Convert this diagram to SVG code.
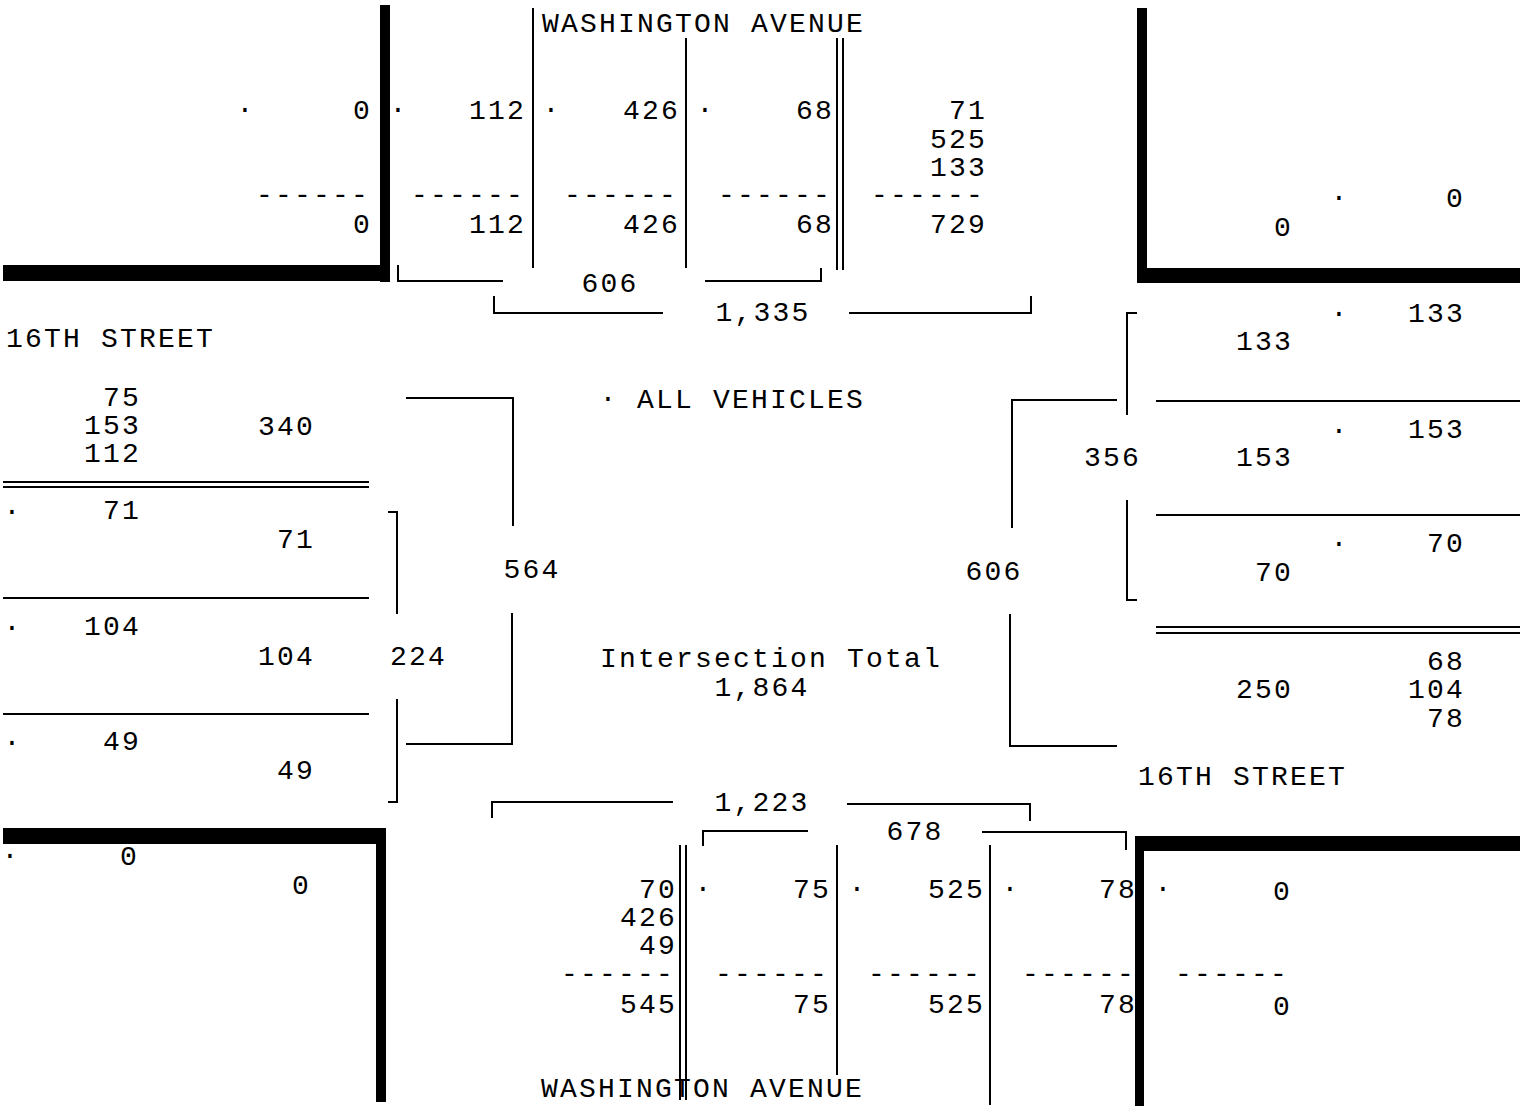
<svg xmlns="http://www.w3.org/2000/svg" width="1529" height="1115" viewBox="0 0 1529 1115">
<style>
text { font-family: "Liberation Mono", "DejaVu Sans Mono", monospace; font-size: 28px; letter-spacing: 2.2px; fill: #000; }
.r { text-anchor: end; transform: translate(2px, 0px); }
.c { text-anchor: middle; transform: translate(1px, 0px); }
.ln { stroke: #000; stroke-width: 2; fill: none; }
.thk { fill: #000; }
</style>
<rect width="1529" height="1115" fill="#fff"/>

<g id="corner-nw">
<rect class="thk" x="380" y="5" width="10" height="277"/>
<rect class="thk" x="3" y="265" width="387" height="16"/>
<text class="c" x="245" y="118">·</text>
<text class="r" x="370" y="119">0</text>
<text class="r" x="368" y="203">------</text>
<text class="r" x="370" y="233">0</text>
</g>

<g id="north-approach">
<text x="542" y="32">WASHINGTON AVENUE</text>
<line class="ln" x1="533" y1="8" x2="533" y2="268"/>
<line class="ln" x1="686" y1="38" x2="686" y2="268"/>
<line class="ln" x1="837" y1="38" x2="837" y2="270"/>
<line class="ln" x1="843" y1="38" x2="843" y2="270"/>
<text class="c" x="398" y="118">·</text>
<text class="r" x="524" y="119">112</text>
<text class="r" x="523" y="203">------</text>
<text class="r" x="524" y="233">112</text>
<text class="c" x="551" y="118">·</text>
<text class="r" x="678" y="119">426</text>
<text class="r" x="676" y="203">------</text>
<text class="r" x="678" y="233">426</text>
<text class="c" x="705" y="118">·</text>
<text class="r" x="832" y="119">68</text>
<text class="r" x="830" y="203">------</text>
<text class="r" x="832" y="233">68</text>
<text class="r" x="985" y="119">71</text>
<text class="r" x="985" y="148">525</text>
<text class="r" x="985" y="176">133</text>
<text class="r" x="983" y="203">------</text>
<text class="r" x="985" y="233">729</text>
<text class="c" x="609" y="292">606</text>
<text class="c" x="762" y="321">1,335</text>
</g>

<g id="corner-ne">
<rect class="thk" x="1137" y="8" width="10" height="275"/>
<rect class="thk" x="1137" y="268" width="383" height="15"/>
<text class="r" x="1291" y="236">0</text>
<text class="c" x="1339" y="206">·</text>
<text class="r" x="1463" y="207">0</text>
</g>

<g id="east-approach">
<text class="c" x="1339" y="322">·</text>
<text class="r" x="1463" y="322">133</text>
<text class="r" x="1291" y="350">133</text>
<line class="ln" x1="1156" y1="401" x2="1520" y2="401"/>
<text class="c" x="1339" y="439">·</text>
<text class="r" x="1463" y="438">153</text>
<text class="r" x="1139" y="466">356</text>
<text class="r" x="1291" y="466">153</text>
<line class="ln" x1="1156" y1="515" x2="1520" y2="515"/>
<text class="c" x="1339" y="552">·</text>
<text class="r" x="1463" y="552">70</text>
<text class="r" x="1291" y="581">70</text>
<line class="ln" x1="1156" y1="627" x2="1520" y2="627"/>
<line class="ln" x1="1156" y1="633" x2="1520" y2="633"/>
<text class="r" x="1463" y="670">68</text>
<text class="r" x="1463" y="698">104</text>
<text class="r" x="1463" y="727">78</text>
<text class="r" x="1291" y="698">250</text>
<text x="1138" y="785">16TH STREET</text>
<text class="c" x="993" y="580">606</text>
</g>

<g id="west-approach">
<text x="6" y="347">16TH STREET</text>
<text class="r" x="139" y="406">75</text>
<text class="r" x="139" y="434">153</text>
<text class="r" x="139" y="462">112</text>
<text class="r" x="313" y="435">340</text>
<line class="ln" x1="3" y1="482" x2="369" y2="482"/>
<line class="ln" x1="3" y1="487" x2="369" y2="487"/>
<text class="c" x="12" y="520">·</text>
<text class="r" x="139" y="519">71</text>
<text class="r" x="313" y="548">71</text>
<line class="ln" x1="3" y1="598" x2="369" y2="598"/>
<text class="c" x="12" y="636">·</text>
<text class="r" x="139" y="635">104</text>
<text class="r" x="313" y="665">104</text>
<text class="r" x="445" y="665">224</text>
<line class="ln" x1="3" y1="714" x2="369" y2="714"/>
<text class="c" x="12" y="751">·</text>
<text class="r" x="139" y="750">49</text>
<text class="r" x="313" y="779">49</text>
<text class="c" x="531" y="578">564</text>
</g>

<g id="center">
<text class="c" x="608" y="407">·</text>
<text x="637" y="408">ALL VEHICLES</text>
<text class="c" x="770" y="667">Intersection Total</text>
<text class="c" x="761" y="696">1,864</text>
</g>

<g id="corner-sw">
<rect class="thk" x="3" y="828" width="383" height="16"/>
<rect class="thk" x="376" y="828" width="10" height="274"/>
<text class="c" x="10" y="864">·</text>
<text class="r" x="137" y="865">0</text>
<text class="r" x="309" y="894">0</text>
</g>

<g id="corner-se">
<rect class="thk" x="1135" y="836" width="385" height="15"/>
<rect class="thk" x="1135" y="836" width="9" height="270"/>
<text class="c" x="1163" y="897">·</text>
<text class="r" x="1290" y="900">0</text>
<text class="r" x="1287" y="982">------</text>
<text class="r" x="1290" y="1015">0</text>
</g>

<g id="south-approach">
<line class="ln" x1="680" y1="845" x2="680" y2="1100"/>
<line class="ln" x1="686" y1="845" x2="686" y2="1100"/>
<line class="ln" x1="837" y1="845" x2="837" y2="1075"/>
<line class="ln" x1="990" y1="845" x2="990" y2="1105"/>
<text class="r" x="675" y="898">70</text>
<text class="r" x="675" y="926">426</text>
<text class="r" x="675" y="954">49</text>
<text class="r" x="673" y="982">------</text>
<text class="r" x="675" y="1013">545</text>
<text class="c" x="703" y="897">·</text>
<text class="r" x="829" y="898">75</text>
<text class="r" x="827" y="982">------</text>
<text class="r" x="829" y="1013">75</text>
<text class="c" x="857" y="897">·</text>
<text class="r" x="983" y="898">525</text>
<text class="r" x="980" y="982">------</text>
<text class="r" x="983" y="1013">525</text>
<text class="c" x="1010" y="897">·</text>
<text class="r" x="1135" y="898">78</text>
<text class="r" x="1134" y="982">------</text>
<text class="r" x="1135" y="1013">78</text>
<text x="541" y="1097">WASHINGTON AVENUE</text>
<text class="c" x="761" y="811">1,223</text>
<text class="c" x="914" y="840">678</text>
</g>

<g id="connectors">
<path class="ln" d="M398,265 V281 H503"/>
<path class="ln" d="M705,281 H821 V268"/>
<path class="ln" d="M494,296 V313 H663"/>
<path class="ln" d="M849,313 H1031 V296"/>
<path class="ln" d="M1137,313 H1127 V415"/>
<path class="ln" d="M1127,500 V600 H1137"/>
<path class="ln" d="M1117,400 H1012 V528"/>
<path class="ln" d="M1010,614 V746 H1117"/>
<path class="ln" d="M388,512 H397 V614"/>
<path class="ln" d="M397,699 V802 H388"/>
<path class="ln" d="M406,398 H513 V526"/>
<path class="ln" d="M512,613 V744 H406"/>
<path class="ln" d="M492,818 V802 H673"/>
<path class="ln" d="M847,804 H1030 V821"/>
<path class="ln" d="M703,846 V831 H808"/>
<path class="ln" d="M982,832 H1126 V850"/>
</g>
</svg>
